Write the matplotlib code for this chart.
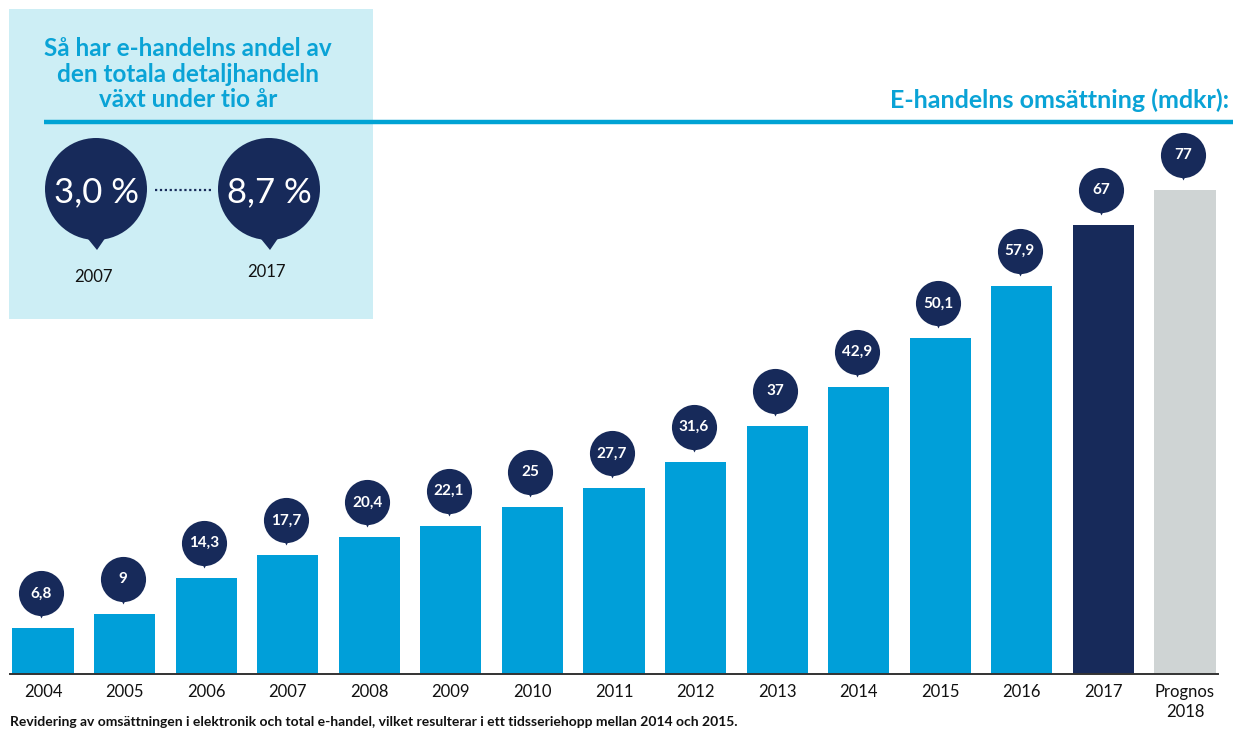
import matplotlib
matplotlib.use("Agg")
import matplotlib.pyplot as plt
from matplotlib.patches import Rectangle, Circle, Polygon
from matplotlib.transforms import ScaledTranslation

plt.rcParams['font.family'] = ['Lato', 'DejaVu Sans']

# ---- data ----
categories = ["2004", "2005", "2006", "2007", "2008", "2009", "2010", "2011",
              "2012", "2013", "2014", "2015", "2016", "2017", "Prognos\n2018"]
values = [6.8, 9, 14.3, 17.7, 20.4, 22.1, 25, 27.7, 31.6, 37, 42.9, 50.1, 57.9, 67, 72.2]
value_labels = ["6,8", "9", "14,3", "17,7", "20,4", "22,1", "25", "27,7",
                "31,6", "37", "42,9", "50,1", "57,9", "67", "77"]
share_years = ["2007", "2017"]
share_labels = ["3,0 %", "8,7 %"]

CYAN = "#009fd9"
NAVY = "#172a5a"
GREY = "#cfd4d4"
BOXBG = "#cdeef5"
TITLE = "#0aa3d6"

bar_colors = [CYAN] * 13 + [NAVY, GREY]

W, H = 1233, 731
fig = plt.figure(figsize=(W / 100, H / 100), dpi=100)

# overlay in pixel coordinates for decorations
ov = fig.add_axes([0, 0, 1, 1], zorder=0)
ov.set_xlim(0, W)
ov.set_ylim(H, 0)
ov.axis("off")

ov.add_patch(Rectangle((9, 9), 364, 310, color=BOXBG, lw=0))
ov.text(188, 74, "Så har e-handelns andel av\nden totala detaljhandeln\nväxt under tio år",
        ha="center", va="center", fontsize=17.5, fontweight="bold", color=TITLE,
        linespacing=1.12)
ov.plot([44, W], [122, 122], color="#00a3d4", lw=3.2, solid_capstyle="butt")
ov.text(1229, 100, "E-handelns omsättning (mdkr):", ha="right", va="center",
        fontsize=18, fontweight="bold", color=TITLE)

# big share pins
centers = [96, 269]
for cx, lab, yr in zip(centers, share_labels, share_years):
    ov.add_patch(Circle((cx, 189), 51, color=NAVY, lw=0))
    ov.add_patch(Polygon([[cx - 12, 234], [cx + 12, 234], [cx + 1, 250]], color=NAVY, lw=0))
    ov.text(cx, 192, lab, ha="center", va="center", fontsize=25, color="white")
ov.text(93, 277, share_years[0], ha="center", va="center", fontsize=12, color="#111111")
ov.text(266, 272, share_years[1], ha="center", va="center", fontsize=12, color="#111111")
ov.plot([155, 211], [190, 190], color=NAVY, lw=1.6, ls=(0, (1, 1.2)))

ov.text(10, 722, "Revidering av omsättningen i elektronik och total e-handel, vilket resulterar i ett tidsseriehopp mellan 2014 och 2015.",
        ha="left", va="center", fontsize=10, fontweight="bold", color="#111111")

# main bar chart
left = 10 / W
bottom = (H - 674) / H
ax = fig.add_axes([left, bottom, 1208 / W, 536 / H], zorder=1)
ax.patch.set_alpha(0)
x = list(range(len(categories)))
ax.bar(x, values, width=0.75, color=bar_colors, zorder=2)
ax.set_xlim(-0.405, len(categories) - 1 + 0.405)
ax.set_ylim(0, 80)
for s in ["top", "right", "left"]:
    ax.spines[s].set_visible(False)
ax.spines["bottom"].set_color("#333333")
ax.spines["bottom"].set_linewidth(1.4)
ax.set_yticks([])
ax.set_xticks(x)
ax.set_xticklabels(categories, fontsize=12, color="#111111", linespacing=1.35)
ax.tick_params(axis="x", length=0, pad=7)


def off(dx, dy):
    return ax.transData + ScaledTranslation(dx / 100, dy / 100, fig.dpi_scale_trans)


for xi, v, lab in zip(x, values, value_labels):
    ax.plot([xi], [v], marker="v", ms=13, color=NAVY, mec="none", transform=off(-2, 19),
            zorder=3, clip_on=False)
    ax.plot([xi], [v], marker="o", ms=32.5, color=NAVY, mec="none", transform=off(-2, 35),
            zorder=4, clip_on=False)
    ax.text(xi, v, lab, ha="center", va="center", fontsize=11, fontweight="bold",
            color="white", transform=off(-2, 35), zorder=5, clip_on=False)

fig.savefig("out.png", dpi=100)
